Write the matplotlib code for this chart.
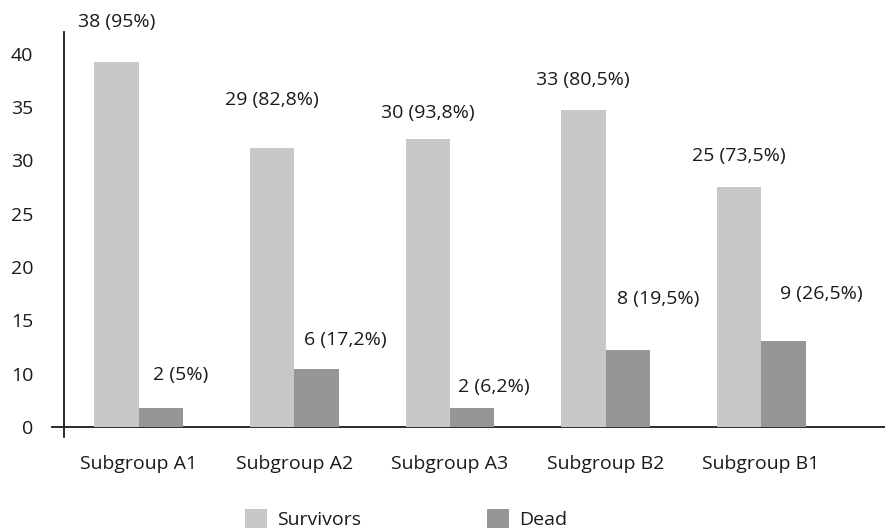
import matplotlib.pyplot as plt
import numpy as np

plt.rcParams['font.family'] = ['Open Sans', 'DejaVu Sans']

groups = ["Subgroup A1", "Subgroup A2", "Subgroup A3", "Subgroup B2", "Subgroup B1"]
survivors = [38, 29, 30, 33, 25]
dead = [2, 6, 2, 8, 9]
survivors_pct = ["95%", "82,8%", "93,8%", "80,5%", "73,5%"]
dead_pct = ["5%", "17,2%", "6,2%", "19,5%", "26,5%"]
ytick_labels = ["0", "10", "15", "20", "25", "30", "35", "40"]

# label offsets from the bar top, in pixels (dx, dy)
surv_offsets = [(0, 40), (0, 48), (0, 26), (0, 30), (0, 31)]
dead_offsets = [(19, 33), (29, 29), (22, 21), (30, 51), (38, 47)]

text_color = "#1a1a1a"
c_surv = "#c8c8c8"
c_dead = "#969696"
fs = 14

fig = plt.figure(figsize=(8.85, 5.3), dpi=100)
W, H = 885, 530
# axes box in pixels: x 52..885, y 32..437
ax = fig.add_axes([52 / W, 1 - 437 / H, (885 - 52) / W, (437 - 32) / H])

x = np.arange(len(groups))
w = 0.286
ax.bar(x - w / 2, survivors, w, color=c_surv, label="Survivors", zorder=3)
ax.bar(x + w / 2, dead, w, color=c_dead, label="Dead", zorder=3)

ax.set_xlim(-0.559, 4.797)
ax.set_ylim(-1.04, 41.1)

for i in range(len(groups)):
    dx, dy = surv_offsets[i]
    ax.annotate(f"{survivors[i]} ({survivors_pct[i]})", (x[i] - w / 2, survivors[i]),
                xytext=(dx, dy), textcoords="offset pixels",
                ha="center", va="center", fontsize=fs, color=text_color)
    dx, dy = dead_offsets[i]
    ax.annotate(f"{dead[i]} ({dead_pct[i]})", (x[i] + w / 2, dead[i]),
                xytext=(dx, dy), textcoords="offset pixels",
                ha="center", va="center", fontsize=fs, color=text_color)

for side in ["top", "right"]:
    ax.spines[side].set_visible(False)
ax.spines["left"].set_position(("data", -0.482))
ax.spines["bottom"].set_position(("data", 0))
for side in ["left", "bottom"]:
    ax.spines[side].set_color(text_color)
    ax.spines[side].set_linewidth(1.3)

ax.set_yticks(np.arange(len(ytick_labels)) * 5.55)
ax.set_yticklabels(ytick_labels)
ax.set_xticks(x)
ax.set_xticklabels(groups)
ax.tick_params(axis="y", length=0, pad=22, labelsize=fs, labelcolor=text_color)
ax.tick_params(axis="x", length=0, pad=20, labelsize=fs, labelcolor=text_color)

fig.legend(loc="center left", bbox_to_anchor=(245 / W, 1 - 519 / H), ncol=2,
           frameon=False, fontsize=fs, handlelength=1.13, handleheight=1.13,
           handletextpad=0.5, columnspacing=6.5, borderpad=0, borderaxespad=0,
           labelcolor=text_color)

fig.savefig("out.png", dpi=100)
